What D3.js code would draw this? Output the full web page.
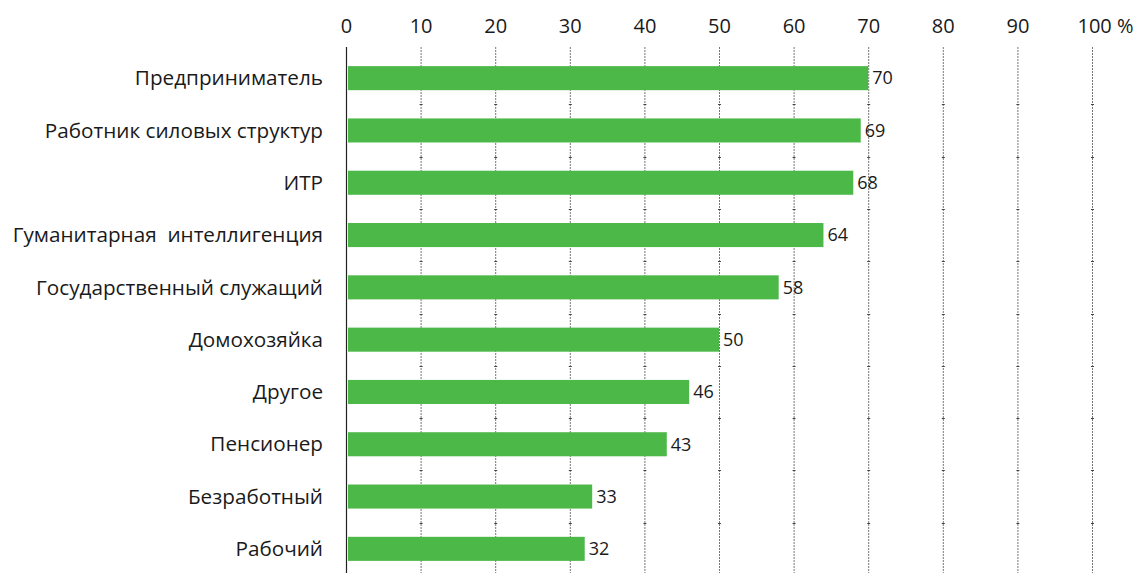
<!DOCTYPE html>
<html>
<head>
<meta charset="utf-8">
<script src="https://cdn.jsdelivr.net/npm/d3@7"></script>
<style>
  html, body { margin: 0; padding: 0; background: #fff; }
  svg { display: block; font-family: "Open Sans", "Noto Sans", sans-serif; }
</style>
</head>
<body>
<svg id="chart" width="1137" height="573"></svg>
<script>
// Share of respondents by occupation, %
const categories = [
  "Предприниматель",
  "Работник силовых структур",
  "ИТР",
  "Гуманитарная  интеллигенция",
  "Государственный служащий",
  "Домохозяйка",
  "Другое",
  "Пенсионер",
  "Безработный",
  "Рабочий"
];
const values = [70, 69, 68, 64, 58, 50, 46, 43, 33, 32];
const tickValues = [0, 10, 20, 30, 40, 50, 60, 70, 80, 90, 100];
const tickLabels = ["0", "10", "20", "30", "40", "50", "60", "70", "80", "90", "100 %"];

const svg = d3.select("#chart");
const barColor = "#4cb848";
const textColor = "#1a1a1a";

const x = d3.scaleLinear().domain([0, 100]).range([346, 1092]);
const y = d3.scaleBand()
  .domain(categories)
  .range([52, 575])
  .paddingInner(0.54)
  .paddingOuter(0.27);

// vertical dotted grid lines
const grid = svg.append("g");
tickValues.filter(d => d > 0).forEach(t => {
  grid.append("line")
    .attr("x1", x(t) + 0.5).attr("x2", x(t) + 0.5)
    .attr("y1", 47).attr("y2", 573)
    .attr("stroke", "#777")
    .attr("stroke-width", 1)
    .attr("stroke-dasharray", "2,1");
  // small marks at category boundaries
  categories.forEach((c, i) => {
    if (i === 0) return;
    const yb = y(c) - y.step() * y.paddingInner() / 2;
    grid.append("line")
      .attr("x1", x(t) - 1).attr("x2", x(t) + 2)
      .attr("y1", Math.round(yb) + 0.5).attr("y2", Math.round(yb) + 0.5)
      .attr("stroke", "#444").attr("stroke-width", 1);
  });
});

// top axis labels
const xAxis = d3.axisTop(x)
  .tickValues(tickValues)
  .tickFormat((d, i) => tickLabels[i])
  .tickSize(0)
  .tickPadding(0);
const gx = svg.append("g").attr("transform", "translate(0,33)").call(xAxis);
gx.select(".domain").remove();
gx.selectAll("text")
  .attr("font-family", "Open Sans, Noto Sans, sans-serif")
  .attr("font-size", 20)
  .attr("fill", textColor);
// "100 %" is anchored so its number sits over the grid line
gx.selectAll("text").filter(d => d === 100)
  .attr("text-anchor", "start")
  .attr("dx", -15);

// bars
svg.append("g").selectAll("rect")
  .data(values)
  .join("rect")
  .attr("x", x(0) + 2)
  .attr("y", (d, i) => y(categories[i]))
  .attr("width", d => x(d) - x(0) - 2)
  .attr("height", y.bandwidth())
  .attr("fill", barColor);

// value labels
svg.append("g").selectAll("text")
  .data(values)
  .join("text")
  .attr("x", d => x(d) + 4)
  .attr("y", (d, i) => y(categories[i]) + y.bandwidth() / 2)
  .attr("dy", "0.35em")
  .attr("font-size", 18)
  .attr("fill", textColor)
  .text(d => d);

// category labels
svg.append("g").selectAll("text")
  .data(categories)
  .join("text")
  .attr("x", 323)
  .attr("y", d => y(d) + y.bandwidth() / 2)
  .attr("dy", "0.35em")
  .attr("text-anchor", "end")
  .attr("font-size", 20.7)
  .attr("fill", textColor)
  .style("white-space", "pre")
  .text(d => d);

// left axis line
svg.append("line")
  .attr("x1", x(0) + 0.5).attr("x2", x(0) + 0.5)
  .attr("y1", 47).attr("y2", 573)
  .attr("stroke", "#222").attr("stroke-width", 1.2);
</script>
</body>
</html>
